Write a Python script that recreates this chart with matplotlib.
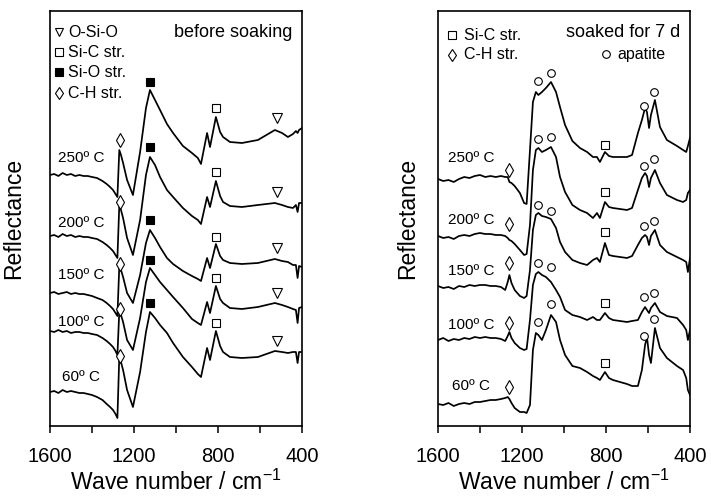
import matplotlib
matplotlib.use('Agg')
import matplotlib.pyplot as plt

plt.rcParams['font.family'] = ['Liberation Sans', 'DejaVu Sans']
plt.rcParams['mathtext.fontset'] = 'custom'
plt.rcParams['mathtext.rm'] = 'Liberation Sans'

# ---- left panel: before soaking ----
wn_left = [1600, 1580, 1560, 1540, 1520, 1500, 1480, 1460, 1440, 1420,
           1400, 1376, 1350, 1330, 1314, 1300, 1288, 1279, 1270, 1262,
           1252, 1233, 1205, 1171, 1143, 1124, 1100, 1076, 1043, 1014,
           967, 924, 896, 881, 852, 838, 810, 790, 776, 743,
           686, 610, 529, 495, 467, 443, 429, 421, 414, 400]

left_250 = [251, 252, 250, 253, 251, 252, 250, 251, 250, 250,
            249, 248, 245, 242, 239, 236, 232, 229, 276, 271,
            263, 246, 231, 274, 318, 336, 326, 316, 302, 293,
            280, 273, 268, 262, 293, 279, 309, 294, 289, 284,
            283, 286, 296, 293, 289, 292, 295, 293, 296, 298]
left_200 = [190, 191, 189, 192, 190, 191, 189, 190, 189, 189,
            188, 187, 184, 181, 178, 175, 171, 168, 221, 216,
            208, 188, 171, 206, 251, 269, 261, 249, 236, 229,
            218, 210, 206, 202, 229, 219, 245, 230, 224, 220,
            219, 221, 223, 221, 219, 218, 221, 214, 223, 223]
left_150 = [133, 134, 132, 133, 134, 132, 133, 132, 132, 131,
            130, 128, 126, 123, 120, 117, 113, 110, 160, 156,
            149, 133, 123, 151, 183, 196, 188, 179, 168, 162,
            155, 150, 147, 145, 168, 158, 182, 170, 166, 163,
            162, 163, 167, 165, 164, 161, 161, 148, 160, 159]
left_100 = [95, 94, 96, 94, 95, 93, 94, 94, 93, 93,
            92, 91, 88, 85, 82, 79, 75, 71, 115, 111,
            104, 86, 76, 108, 144, 158, 151, 144, 136, 129,
            118, 107, 103, 101, 124, 113, 140, 127, 123, 118,
            117, 119, 123, 121, 119, 117, 116, 103, 118, 119]
left_60 = [34, 35, 33, 36, 34, 35, 34, 33, 33, 32,
           31, 29, 26, 22, 19, 16, 12, 8, 70, 64,
           56, 36, 19, 54, 94, 114, 108, 101, 93, 83,
           69, 59, 52, 49, 78, 66, 95, 80, 74, 69,
           68, 69, 75, 74, 73, 74, 74, 63, 74, 74]

# marker heights (left), top curve first
left_ch = [286, 224, 162, 117, 70]      # C-H str. at 1269
left_sio = [344, 279, 206, 166, 123]    # Si-O str. at 1124
left_sic = [318, 254, 189, 148, 103]    # Si-C str. at 810
left_osio = [308, 234, 178, 133, 85]    # O-Si-O at 519

# ---- right panel: soaked for 7 d ----
wn_right = [1600, 1575, 1550, 1525, 1500, 1475, 1450, 1425, 1400, 1375,
            1350, 1325, 1300, 1280, 1268, 1260, 1250, 1235, 1210, 1190,
            1178, 1162, 1148, 1134, 1122, 1105, 1086, 1062, 1038, 1019,
            995, 960, 924, 890, 862, 843, 829, 805, 786, 767,
            700, 676, 648, 629, 614, 605, 595, 586, 567, 543,
            510, 462, 433, 418, 410, 400]

right_250 = [247, 245, 246, 244, 247, 249, 248, 250, 251, 249,
             250, 249, 250, 249, 249, 244, 243, 240, 233, 223,
             222, 276, 324, 334, 331, 334, 338, 344, 334, 319,
             301, 285, 278, 274, 269, 269, 264, 274, 270, 269,
             269, 271, 293, 306, 318, 314, 298, 311, 326, 299,
             286, 280, 276, 274, 280, 288]
right_200 = [190, 188, 189, 187, 190, 191, 190, 192, 193, 192,
             192, 191, 191, 190, 188, 186, 185, 182, 176, 171,
             172, 201, 256, 276, 278, 274, 276, 279, 269, 249,
             234, 221, 216, 213, 208, 213, 208, 224, 219, 218,
             216, 218, 236, 248, 253, 250, 239, 248, 256, 243,
             231, 226, 224, 226, 233, 236]
right_150 = [140, 138, 139, 137, 140, 139, 141, 140, 141, 141,
             140, 140, 139, 136, 144, 151, 143, 136, 130, 128,
             130, 156, 196, 211, 213, 210, 209, 207, 198, 184,
             174, 166, 163, 161, 166, 168, 164, 183, 171, 170,
             168, 170, 181, 188, 191, 189, 181, 190, 196, 181,
             174, 169, 166, 164, 154, 168]
right_100 = [86, 88, 85, 87, 86, 88, 87, 89, 88, 89,
             88, 88, 87, 85, 90, 94, 88, 83, 78, 76,
             77, 106, 141, 152, 154, 151, 149, 144, 136, 129,
             116, 111, 109, 106, 109, 106, 106, 113, 108, 106,
             104, 105, 106, 114, 119, 116, 113, 118, 123, 114,
             110, 108, 101, 96, 86, 96]
right_60 = [22, 21, 23, 20, 22, 23, 22, 24, 24, 25,
            26, 26, 27, 28, 29, 27, 23, 18, 14, 14,
            13, 21, 76, 93, 91, 86, 96, 111, 104, 86,
            71, 60, 58, 54, 50, 48, 46, 54, 48, 46,
            42, 40, 40, 56, 81, 89, 71, 63, 98, 78,
            68, 60, 56, 48, 36, 31]

right_ch = [256, 202, 163, 103, 39]     # C-H str. at 1262
right_ap1 = [345, 287, 221, 163, 104]   # apatite at 1122
right_ap2 = [353, 289, 215, 159, 122]   # apatite at 1060
right_ap3 = [320, 260, 200, 129, 90]    # apatite at 619
right_ap4 = [334, 267, 205, 133, 107]   # apatite at 571
right_sic = [281, 234, 194, 123, 63]    # Si-C str. at 803

temps = ['250º C', '200º C', '150º C', '100º C', '60º C']
left_label_y = [268, 203, 151, 104, 49]
right_label_y = [268, 206, 155, 101, 40]

fig = plt.figure(figsize=(7.11, 4.97), dpi=100)
axL = fig.add_axes([50/711, 71/497, 252/711, 415/497])
axR = fig.add_axes([438/711, 71/497, 252/711, 415/497])

def style(ax, dx):
    ax.set_xlim(1600, 400)
    ax.set_ylim(0, 415)
    ax.set_xticks([1600, 1200, 800, 400])
    ax.set_xticks([1400, 1000, 600], minor=True)
    ax.set_yticks([])
    ax.tick_params(axis='x', which='major', direction='out', length=5, width=1.1,
                   labelsize=14.5, pad=10)
    ax.tick_params(axis='x', which='minor', direction='out', length=5, width=1.1)
    for s in ax.spines.values():
        s.set_linewidth(1.2)
    ax.set_xlabel('Wave number / cm$^{\\mathrm{-1}}$', fontsize=16.5, labelpad=3)
    ax.set_ylabel('Reflectance', fontsize=16.5)
    ax.yaxis.set_label_coords(dx, 0.5)

style(axL, -0.10)
style(axR, -0.075)

mk = dict(ls='none', mec='black', mew=0.8)

# left curves
for ys in [left_250, left_200, left_150, left_100, left_60]:
    axL.plot(wn_left, ys, color='black', lw=1.25)
axL.plot([1269]*5, left_ch, marker='d', ms=7.5, mfc='white', **mk)
axL.plot([1124]*5, left_sio, marker='s', ms=5.5, mfc='black', **mk)
axL.plot([810]*5, left_sic, marker='s', ms=5.5, mfc='white', **mk)
axL.plot([519]*5, left_osio, marker='v', ms=6.5, mfc='white', **mk)
for t, y in zip(temps, left_label_y):
    axL.text(1452, y, t, ha='center', va='center', fontsize=11)

# left legend
leg_left = [('v', 'white', 'O-Si-O'), ('s', 'white', 'Si-C str.'),
            ('s', 'black', 'Si-O str.'), ('d', 'white', 'C-H str.')]
for (m, fc, txt), yy in zip(leg_left, [0.949, 0.901, 0.853, 0.802]):
    axL.plot([0.036], [yy], marker=m, ms=5.5 if m != 'd' else 6.5, mfc=fc,
             transform=axL.transAxes, **mk)
    axL.text(0.071, yy, txt, transform=axL.transAxes, ha='left', va='center', fontsize=11.5)
axL.text(0.96, 0.949, 'before soaking', transform=axL.transAxes, ha='right',
         va='center', fontsize=13)

# right curves
for ys in [right_250, right_200, right_150, right_100, right_60]:
    axR.plot(wn_right, ys, color='black', lw=1.25)
axR.plot([1262]*5, right_ch, marker='d', ms=7.5, mfc='white', **mk)
axR.plot([803]*5, right_sic, marker='s', ms=5.5, mfc='white', **mk)
for wn, ys in [(1122, right_ap1), (1060, right_ap2), (619, right_ap3), (571, right_ap4)]:
    axR.plot([wn]*5, ys, marker='o', ms=5.5, mfc='white', **mk)
for t, y in zip(temps, right_label_y):
    axR.text(1443, y, t, ha='center', va='center', fontsize=11)

# right legend
axR.plot([0.056], [0.942], marker='s', ms=5.5, mfc='white', transform=axR.transAxes, **mk)
axR.text(0.103, 0.942, 'Si-C str.', transform=axR.transAxes, va='center', fontsize=11.5)
axR.plot([0.056], [0.894], marker='d', ms=6.5, mfc='white', transform=axR.transAxes, **mk)
axR.text(0.103, 0.894, 'C-H str.', transform=axR.transAxes, va='center', fontsize=11.5)
axR.plot([0.667], [0.896], marker='o', ms=5.5, mfc='white', transform=axR.transAxes, **mk)
axR.text(0.710, 0.896, 'apatite', transform=axR.transAxes, va='center', fontsize=11.5)
axR.text(0.96, 0.949, 'soaked for 7 d', transform=axR.transAxes, ha='right',
         va='center', fontsize=13)

fig.savefig('out.png', dpi=100)
